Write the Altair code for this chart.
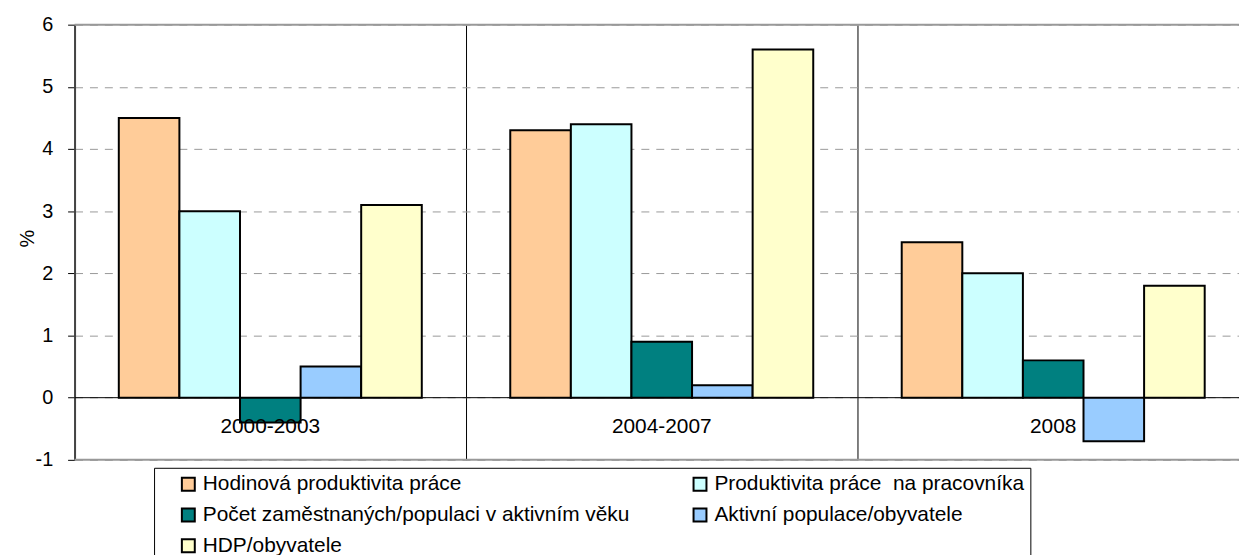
import altair as alt
import pandas as pd

categories = ["2000-2003", "2004-2007", "2008"]
series = [
    "Hodinová produktivita práce",
    "Produktivita práce \u00a0na pracovníka",
    "Počet zaměstnaných/populaci v aktivním věku",
    "Aktivní populace/obyvatele",
    "HDP/obyvatele",
]
colors = ["#FFCC99", "#CCFFFF", "#008080", "#99CCFF", "#FFFFCC"]

hodinova = [4.5, 4.3, 2.5]
produktivita = [3.0, 4.4, 2.0]
pocet = [-0.4, 0.9, 0.6]
aktivni = [0.5, 0.2, -0.7]
hdp = [3.1, 5.6, 1.8]

y_ticks = [-1, 0, 1, 2, 3, 4, 5, 6]

rows = []
for s, vals in zip(series, [hodinova, produktivita, pocet, aktivni, hdp]):
    for c, v in zip(categories, vals):
        rows.append({"period": c, "series": s, "value": v})
df = pd.DataFrame(rows)
cat_df = pd.DataFrame({"period": categories})

# legend is laid out column by column: reorder so rows read like the reference
legend_order = [series[0], series[2], series[4], series[1], series[3]]

FONT = "Liberation Sans"

xscale = alt.Scale(domain=categories, paddingInner=0, paddingOuter=0)
x_enc = alt.X(
    "period:N",
    sort=categories,
    scale=xscale,
    axis=alt.Axis(
        title=None, labels=False, ticks=False, domain=False, grid=True,
        gridColor="#000000", gridWidth=1, bandPosition=0,
    ),
)
yscale = alt.Scale(domain=[-1, 6], nice=False, zero=False)

bars = alt.Chart(df).mark_bar(stroke="black", strokeWidth=2).encode(
    x=x_enc,
    xOffset=alt.XOffset("series:N", sort=series,
                        scale=alt.Scale(domain=series, paddingOuter=0.73, paddingInner=0)),
    y=alt.Y(
        "value:Q",
        scale=yscale,
        axis=alt.Axis(
            title="%", values=y_ticks, labelExpr="'' + datum.value", tickSize=7,
            tickColor="#000000", labelFontSize=20, labelPadding=15, labelColor="#000000",
            titleFontSize=20, titleFontWeight="normal", titleColor="#000000",
            titleX=-47, titleY=215, titleAngle=-90, titleAlign="center", titleBaseline="middle",
            domainColor="#444444", domainWidth=2,
            grid=True, gridColor="#999999", gridDash=[8, 7], gridWidth=1,
        ),
    ),
    color=alt.Color(
        "series:N",
        sort=series,
        scale=alt.Scale(domain=series, range=colors),
        legend=alt.Legend(
            title="\u00a0", titleOrient="left", titlePadding=18, titleFontSize=21,
            orient="none", legendX=80, legendY=446, direction="vertical",
            values=legend_order,
            columns=2, columnPadding=60, rowPadding=9, padding=6,
            strokeColor="#000000", fillColor="#FFFFFF",
            symbolType="square", symbolSize=169, symbolStrokeColor="#000000",
            symbolStrokeWidth=2, symbolOpacity=1, labelFontSize=21, labelLimit=0,
            labelOffset=4, labelColor="#000000", labelFont=FONT,
        ),
    ),
)

zero_rule = alt.Chart(pd.DataFrame({"v": [0]})).mark_rule(color="#000000", strokeWidth=1).encode(
    y=alt.Y("v:Q", scale=yscale)
)
border = alt.Chart(pd.DataFrame({"v": [6, -1]})).mark_rule(color="#999999", strokeWidth=2).encode(
    y=alt.Y("v:Q", scale=yscale)
)

labels = alt.Chart(cat_df).mark_text(
    fontSize=21, baseline="middle", dy=30, color="#000000", font=FONT
).encode(
    x=alt.X("period:N", sort=categories, scale=xscale),
    y=alt.datum(0),
    text="period:N",
)

chart = alt.layer(zero_rule, border, bars, labels).properties(
    width=1182,
    height=438,
    padding={"left": 67, "top": 15, "right": -10, "bottom": 94},
    autosize=alt.AutoSizeParams(type="none"),
).configure(font=FONT).configure_view(stroke=None)

chart.save("out.html", embed_options={"renderer": "svg", "actions": False})
